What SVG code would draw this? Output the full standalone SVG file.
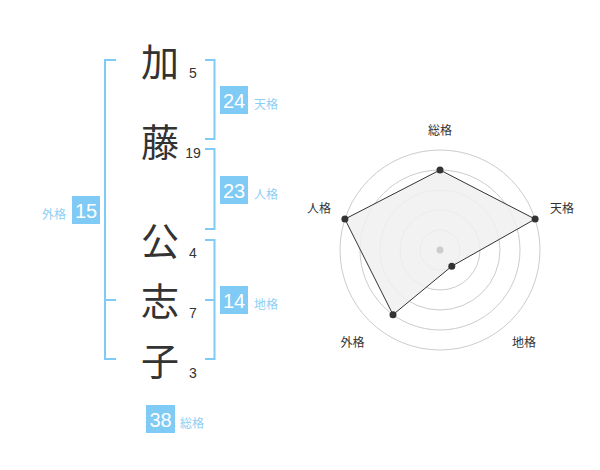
<svg xmlns="http://www.w3.org/2000/svg" width="600" height="470" viewBox="0 0 600 470">
<style>
.ch{font-family:"Noto Sans CJK JP","Noto Sans CJK SC",sans-serif;font-size:38px;fill:#333;text-anchor:middle}
.st{font-family:"Liberation Sans",Arial,sans-serif;font-size:14px;fill:#333;text-anchor:middle}
.br{fill:none;stroke:#80caf6;stroke-width:2}
.box{fill:#80caf6}
.bn{font-family:"Liberation Sans",Arial,sans-serif;font-size:20px;fill:#fff;text-anchor:middle}
.bl{font-family:"Noto Sans CJK JP","Noto Sans CJK SC",sans-serif;font-size:12px;fill:#8ccff5}
.ring{fill:none;stroke:#cccccc;stroke-width:1}
.rl{font-family:"Noto Sans CJK JP","Noto Sans CJK SC",sans-serif;font-size:12px;fill:#333;text-anchor:middle}
.dot{fill:#333}
</style>
<rect width="600" height="470" fill="#fff"/>
<g id="name">
<g id="c1"><text class="ch" x="160" y="76">加</text><text class="st" x="193" y="78">5</text></g>
<g id="c2"><text class="ch" x="160" y="156">藤</text><text class="st" x="193" y="158">19</text></g>
<g id="c3"><text class="ch" x="160" y="255">公</text><text class="st" x="193" y="258">4</text></g>
<g id="c4"><text class="ch" x="160" y="315">志</text><text class="st" x="193" y="318">7</text></g>
<g id="c5"><text class="ch" x="160" y="375">子</text><text class="st" x="193" y="378">3</text></g>
</g>
<g id="brackets">
<path class="br" d="M116,60 H105 V359 H116 M105,300 H116"/>
<path class="br" d="M205,60 H214.5 V139 H205"/>
<path class="br" d="M205,149 H214.5 V229 H205"/>
<path class="br" d="M205,240 H214.5 V359 H205 M205,300 H214.5"/>
</g>
<g id="tenkaku"><rect class="box" x="220" y="86" width="28" height="28"/><text class="bn" x="234" y="108">24</text><text class="bl" x="254" y="109">天格</text></g>
<g id="jinkaku"><rect class="box" x="220" y="176" width="28" height="28"/><text class="bn" x="234" y="198">23</text><text class="bl" x="254" y="199">人格</text></g>
<g id="chikaku"><rect class="box" x="220" y="286" width="28" height="28"/><text class="bn" x="234" y="308">14</text><text class="bl" x="254" y="309">地格</text></g>
<g id="gaikaku"><rect class="box" x="72" y="196" width="28" height="28"/><text class="bn" x="86" y="218">15</text><text class="bl" x="42" y="219">外格</text></g>
<g id="soukaku"><rect class="box" x="146" y="405" width="29" height="28"/><text class="bn" x="160.5" y="427">38</text><text class="bl" x="180" y="428">総格</text></g>
<g id="radar">
<circle class="ring" cx="440" cy="250" r="20"/>
<circle class="ring" cx="440" cy="250" r="40"/>
<circle class="ring" cx="440" cy="250" r="60"/>
<circle class="ring" cx="440" cy="250" r="80"/>
<circle class="ring" cx="440" cy="250" r="100"/>
<polygon points="440,170 535.1,219.1 451.8,266.2 393,314.7 344.9,219.1" fill="#f0f0f0" fill-opacity="0.85" stroke="#333" stroke-width="1"/>
<circle cx="440" cy="250" r="3.5" fill="#cccccc"/>
<circle class="dot" cx="440" cy="170" r="3.5"/>
<circle class="dot" cx="535.1" cy="219.1" r="3.5"/>
<circle class="dot" cx="451.8" cy="266.2" r="3.5"/>
<circle class="dot" cx="393" cy="314.7" r="3.5"/>
<circle class="dot" cx="344.9" cy="219.1" r="3.5"/>
<text class="rl" x="440" y="135">総格</text>
<text class="rl" x="562" y="213">天格</text>
<text class="rl" x="319" y="213">人格</text>
<text class="rl" x="352.5" y="347">外格</text>
<text class="rl" x="524" y="347">地格</text>
</g>
</svg>
